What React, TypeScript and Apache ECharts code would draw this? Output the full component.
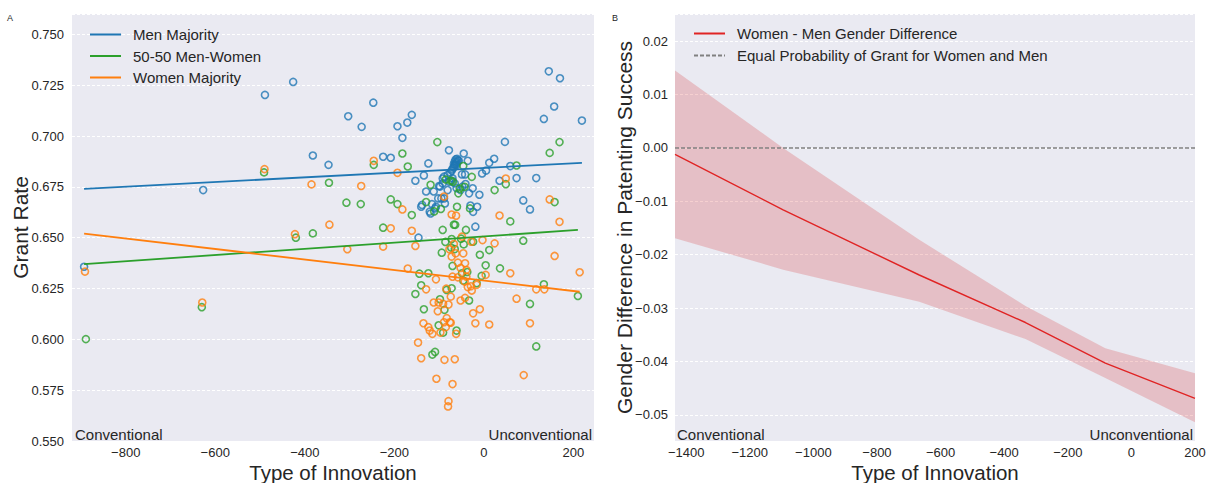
import React, { useEffect, useRef } from 'react';
import * as echarts from 'echarts';

// ---------- Panel A data: [type of innovation, grant rate] ----------
const menMajority: number[][] = [
  [-893, 0.6357], [-627, 0.6734], [-489, 0.7202], [-426, 0.7266], [-382, 0.6904], [-347, 0.6858],
  [-303, 0.7097], [-273, 0.7045], [-247, 0.7164], [-225, 0.6898], [-208, 0.6893], [-193, 0.7048],
  [-182, 0.6991], [-171, 0.7066], [-161, 0.7104], [-153, 0.6780], [-146, 0.6500], [-140, 0.6652],
  [-138, 0.6661], [-134, 0.6806], [-129, 0.6727], [-124, 0.6865], [-121, 0.6628], [-119, 0.6619],
  [-116, 0.6665], [-112, 0.6727], [-109, 0.6644], [-107, 0.6652], [-102, 0.6693], [-100, 0.6754],
  [-98, 0.6751], [-95, 0.6693], [-92, 0.6767], [-92, 0.6791], [-89, 0.6800], [-89, 0.6693],
  [-87, 0.6668], [-81, 0.6734], [-81, 0.6808], [-78, 0.6930], [-77, 0.6775], [-71, 0.6780],
  [-70, 0.6792], [-65, 0.6767], [-61, 0.6743], [-52, 0.6734], [-49, 0.6811], [-48, 0.6751],
  [-45, 0.6914], [-42, 0.6811], [-41, 0.6764], [-36, 0.6878], [-33, 0.6718], [-30, 0.6658],
  [-25, 0.6743], [-24, 0.6627], [-19, 0.6554], [-15, 0.6652], [-10, 0.6711], [-4, 0.6816],
  [5, 0.6830], [12, 0.6868], [23, 0.6888], [35, 0.6780], [47, 0.6971], [59, 0.6852],
  [73, 0.6793], [88, 0.6683], [103, 0.6639], [117, 0.6793], [134, 0.7084], [145, 0.7318],
  [157, 0.7145], [170, 0.7284], [219, 0.7076],
  [-75, 0.6820], [-72, 0.6830], [-70, 0.6838], [-68, 0.6845], [-66, 0.6852], [-64, 0.6860],
  [-62, 0.6866], [-60, 0.6872], [-58, 0.6880], [-63, 0.6885], [-60, 0.6888], [-56, 0.6878],
  [-65, 0.6875], [-67, 0.6862], [-61, 0.6857]
];

const fiftyFifty: number[][] = [
  [-889, 0.6001], [-630, 0.6158], [-491, 0.6821], [-420, 0.6500], [-382, 0.6521], [-346, 0.6770],
  [-307, 0.6672], [-275, 0.6665], [-246, 0.6858], [-225, 0.6549], [-208, 0.6688], [-193, 0.6665],
  [-182, 0.6914], [-170, 0.6850], [-161, 0.6611], [-153, 0.6223], [-144, 0.6323], [-140, 0.6266],
  [-134, 0.6148], [-129, 0.6675], [-124, 0.6325], [-119, 0.6760], [-115, 0.5925], [-111, 0.6629],
  [-109, 0.5938], [-104, 0.6970], [-101, 0.6069], [-98, 0.6197], [-96, 0.6641], [-94, 0.6426],
  [-92, 0.6538], [-91, 0.6033], [-88, 0.6145], [-86, 0.6479], [-85, 0.6786], [-83, 0.6243],
  [-74, 0.6780], [-73, 0.6451], [-72, 0.6251], [-72, 0.6493], [-70, 0.6361], [-69, 0.6775],
  [-67, 0.6564], [-65, 0.6444], [-64, 0.6563], [-61, 0.6043], [-60, 0.6652], [-57, 0.6718],
  [-54, 0.6741], [-51, 0.6495], [-49, 0.6325], [-46, 0.6852], [-46, 0.6289], [-45, 0.6467],
  [-43, 0.6750], [-40, 0.6538], [-37, 0.6331], [-33, 0.6191], [-31, 0.6644], [-27, 0.6799],
  [-24, 0.6480], [-16, 0.6276], [-9, 0.6416], [-5, 0.6312], [4, 0.6364], [12, 0.6439],
  [24, 0.6734], [36, 0.6349], [49, 0.6763], [59, 0.6580], [73, 0.6855], [88, 0.6485],
  [103, 0.6174], [117, 0.5965], [134, 0.6271], [147, 0.6917], [158, 0.6675], [169, 0.6970],
  [210, 0.6213]
];

const womenMajority: number[][] = [
  [-891, 0.6333], [-629, 0.6181], [-490, 0.6837], [-422, 0.6517], [-385, 0.6762], [-345, 0.6564],
  [-305, 0.6443], [-274, 0.6754], [-246, 0.6878], [-225, 0.6456], [-208, 0.6546], [-193, 0.6819],
  [-182, 0.6639], [-170, 0.6348], [-161, 0.6534], [-153, 0.6459], [-147, 0.5984], [-140, 0.5907],
  [-135, 0.6079], [-129, 0.6246], [-124, 0.6060], [-121, 0.6043], [-115, 0.6027], [-112, 0.6181],
  [-107, 0.6295], [-106, 0.5806], [-103, 0.6138], [-101, 0.6181], [-97, 0.6033], [-91, 0.6174],
  [-89, 0.6702], [-89, 0.6084], [-88, 0.5899], [-84, 0.6249], [-85, 0.6060], [-83, 0.6104],
  [-80, 0.5670], [-79, 0.5696], [-79, 0.6171], [-77, 0.6443], [-76, 0.6084], [-74, 0.6210],
  [-74, 0.6082], [-72, 0.6407], [-72, 0.6614], [-70, 0.6308], [-70, 0.5780], [-67, 0.6469],
  [-65, 0.5902], [-63, 0.6423], [-62, 0.6608], [-62, 0.6027], [-58, 0.6377], [-58, 0.6305],
  [-52, 0.6351], [-52, 0.6191], [-49, 0.6505], [-46, 0.6423], [-43, 0.6284], [-42, 0.6374],
  [-42, 0.6204], [-39, 0.6341], [-39, 0.6308], [-36, 0.6257], [-29, 0.6261], [-28, 0.6480],
  [-27, 0.6240], [-24, 0.6128], [-19, 0.6079], [-16, 0.6268], [-9, 0.6148], [-3, 0.6488],
  [4, 0.6317], [12, 0.6073], [24, 0.6472], [35, 0.6609], [49, 0.6791], [59, 0.6325],
  [73, 0.6200], [89, 0.5824], [103, 0.6079], [117, 0.6246], [135, 0.6246], [147, 0.6688],
  [158, 0.6410], [169, 0.6578], [214, 0.6330]
];

// regression fits (end points)
const menFitX = [-893, 219];
const menFitY = [0.6740, 0.6868];
const fiftyFitX = [-893, 210];
const fiftyFitY = [0.6370, 0.6538];
const womenFitX = [-893, 214];
const womenFitY = [0.6520, 0.6234];

// ---------- Panel B data ----------
const diffX = [-1435, -1095, -667, -333, -82, 200];
const diffMean = [-0.0012, -0.0116, -0.0238, -0.0327, -0.0403, -0.0469];
const diffUpper = [0.0145, 0.0000, -0.0172, -0.0296, -0.0375, -0.0422];
const diffLower = [-0.0169, -0.0228, -0.0288, -0.0358, -0.0431, -0.0514];
const equalX = [-1435, 200];
const equalY = [0, 0];

const BLUE = '#1f77b4';
const GREEN = '#2ca02c';
const ORANGE = '#ff7f0e';
const RED = '#e02424';
const TXT = '#262626';
const BG = '#EAEAF2';
const FONT = '"Liberation Sans", Arial, sans-serif';

const isMult = (v: number, step: number) => Math.abs(v / step - Math.round(v / step)) < 1e-6;
const minus = (s: string) => s.replace('-', '\u2212');

const xFmt = (v: number) => {
  if (!isMult(v, 200)) return '';
  const r = Math.round(v);
  return r === 0 ? '0' : minus(String(r));
};
const yFmtA = (v: number) => (isMult(v, 0.025) ? v.toFixed(3) : '');
const yFmtB = (v: number) => {
  if (!isMult(v, 0.01)) return '';
  const r = Math.round(v * 100) / 100;
  return r === 0 ? '0.00' : minus(r.toFixed(2));
};

const pairs = (xs: number[], ys: number[]) => xs.map((x, i) => [x, ys[i]]);

const scatter = (name: string, data: number[][], color: string) => ({
  type: 'scatter',
  name,
  xAxisIndex: 0,
  yAxisIndex: 0,
  data,
  symbol: 'circle',
  symbolSize: 7,
  itemStyle: { color: 'rgba(0,0,0,0)', borderColor: color, borderWidth: 1.6 },
  emphasis: { disabled: true },
});

const fitLine = (name: string, xs: number[], ys: number[], color: string) => ({
  type: 'line',
  name,
  xAxisIndex: 0,
  yAxisIndex: 0,
  data: pairs(xs, ys),
  symbol: 'none',
  lineStyle: { color, width: 1.8 },
  itemStyle: { color },
});

const commonX = {
  type: 'value',
  axisLine: { show: false },
  axisTick: { show: false },
  splitLine: { show: false },
  axisLabel: { formatter: xFmt, fontSize: 13, color: TXT, margin: 5, fontFamily: FONT },
  name: 'Type of Innovation',
  nameLocation: 'middle',
  nameGap: 21,
  nameMoveOverlap: false,
  nameTextStyle: { fontSize: 20.5, color: TXT, fontFamily: FONT, lineHeight: 20 },
  minInterval: 200,
  maxInterval: 200,
};

const splitLineStyle = { show: true, lineStyle: { color: '#ffffff', type: [3, 2], width: 1 } };

const legendCommon = {
  orient: 'vertical',
  itemWidth: 31,
  itemHeight: 14,
  selectedMode: false,
  itemStyle: { opacity: 0 },
  textStyle: { fontSize: 15, color: TXT, lineHeight: 15, padding: [0, 0, 0, 7], fontFamily: FONT },
};

export default function App() {
  const ref = useRef<HTMLDivElement>(null);
  useEffect(() => {
    if (!ref.current) return;
    const chart = echarts.init(ref.current, undefined, { renderer: 'svg' });
    const option: any = {
      animation: false,
      textStyle: { fontFamily: FONT },
      grid: [
        { left: 72, top: 14, width: 522, height: 427, show: true, backgroundColor: BG, borderWidth: 0, outerBoundsMode: 'none', containLabel: false },
        { left: 675, top: 14, width: 520, height: 427, show: true, backgroundColor: BG, borderWidth: 0, outerBoundsMode: 'none', containLabel: false },
      ],
      xAxis: [
        { ...commonX, gridIndex: 0, min: -920, max: 246 },
        { ...commonX, gridIndex: 1, min: -1435, max: 200 },
      ],
      yAxis: [
        {
          type: 'value', gridIndex: 0, min: 0.55, max: 0.76, interval: 0.025,
          axisLine: { show: false }, axisTick: { show: false }, splitLine: splitLineStyle,
          axisLabel: { formatter: yFmtA, fontSize: 13, color: TXT, margin: 8, fontFamily: FONT },
          name: 'Grant Rate', nameLocation: 'middle', nameGap: 41, nameMoveOverlap: false,
          nameTextStyle: { fontSize: 21, color: TXT, fontFamily: FONT },
        },
        {
          type: 'value', gridIndex: 1, min: -0.0549, max: 0.0251, minInterval: 0.01, maxInterval: 0.01,
          axisLine: { show: false }, axisTick: { show: false }, splitLine: splitLineStyle,
          axisLabel: { formatter: yFmtB, fontSize: 13, color: TXT, margin: 7, fontFamily: FONT },
          name: 'Gender Difference in Patenting Success', nameLocation: 'middle', nameGap: 40, nameMoveOverlap: false,
          nameTextStyle: { fontSize: 21, color: TXT, fontFamily: FONT },
        },
      ],
      legend: [
        {
          ...legendCommon,
          data: ['Men Majority', '50-50 Men-Women', 'Women Majority'],
          left: 84, top: 22, itemGap: 6.5,
        },
        {
          ...legendCommon,
          data: ['Women - Men Gender Difference', 'Equal Probability of Grant for Women and Men'],
          left: 688, top: 21, itemGap: 7,
        },
      ],
      series: [
        scatter('Men Majority points', menMajority, BLUE),
        fitLine('Men Majority', menFitX, menFitY, BLUE),
        scatter('50-50 Men-Women points', fiftyFifty, GREEN),
        fitLine('50-50 Men-Women', fiftyFitX, fiftyFitY, GREEN),
        scatter('Women Majority points', womenMajority, ORANGE),
        fitLine('Women Majority', womenFitX, womenFitY, ORANGE),
        {
          type: 'custom',
          name: 'Confidence band',
          xAxisIndex: 1,
          yAxisIndex: 1,
          data: diffX.map((x, i) => [x, diffLower[i], diffUpper[i]]),
          encode: { x: 0, y: [1, 2] },
          renderItem: (params: any, api: any) => {
            if (params.dataIndex !== 0) return null;
            const n = params.dataInsideLength;
            const pts: number[][] = [];
            for (let i = 0; i < n; i++) pts.push(api.coord([api.value(0, i), api.value(2, i)]));
            for (let i = n - 1; i >= 0; i--) pts.push(api.coord([api.value(0, i), api.value(1, i)]));
            return { type: 'polygon', shape: { points: pts }, style: { fill: 'rgba(214,39,40,0.22)' } };
          },
          z: 1,
          silent: true,
        },
        {
          type: 'line',
          name: 'Equal Probability of Grant for Women and Men',
          xAxisIndex: 1,
          yAxisIndex: 1,
          data: pairs(equalX, equalY),
          symbol: 'none',
          lineStyle: { color: '#808080', width: 1.5, type: [4, 2] },
          itemStyle: { color: '#808080' },
          z: 3,
        },
        {
          type: 'line',
          name: 'Women - Men Gender Difference',
          xAxisIndex: 1,
          yAxisIndex: 1,
          data: pairs(diffX, diffMean),
          symbol: 'none',
          lineStyle: { color: RED, width: 1.4 },
          itemStyle: { color: RED },
          z: 4,
        },
      ],
      graphic: [
        { type: 'text', left: 7, top: 13, style: { text: 'A', fontSize: 9, fill: TXT, fontFamily: FONT } },
        { type: 'text', left: 612, top: 13, style: { text: 'B', fontSize: 9, fill: TXT, fontFamily: FONT } },
        { type: 'text', x: 75, y: 442, style: { text: 'Conventional', fontSize: 15, fill: TXT, fontFamily: FONT, textAlign: 'left', textVerticalAlign: 'bottom' } },
        { type: 'text', x: 592, y: 442, style: { text: 'Unconventional', fontSize: 15, fill: TXT, fontFamily: FONT, textAlign: 'right', textVerticalAlign: 'bottom' } },
        { type: 'text', x: 677, y: 442, style: { text: 'Conventional', fontSize: 15, fill: TXT, fontFamily: FONT, textAlign: 'left', textVerticalAlign: 'bottom' } },
        { type: 'text', x: 1193, y: 442, style: { text: 'Unconventional', fontSize: 15, fill: TXT, fontFamily: FONT, textAlign: 'right', textVerticalAlign: 'bottom' } },
      ],
    };
    chart.setOption(option);
    return () => chart.dispose();
  }, []);
  return (
    <div
      ref={ref}
      style={{ position: 'absolute', left: 0, top: 0, width: 1206, height: 483, background: '#ffffff' }}
    />
  );
}
